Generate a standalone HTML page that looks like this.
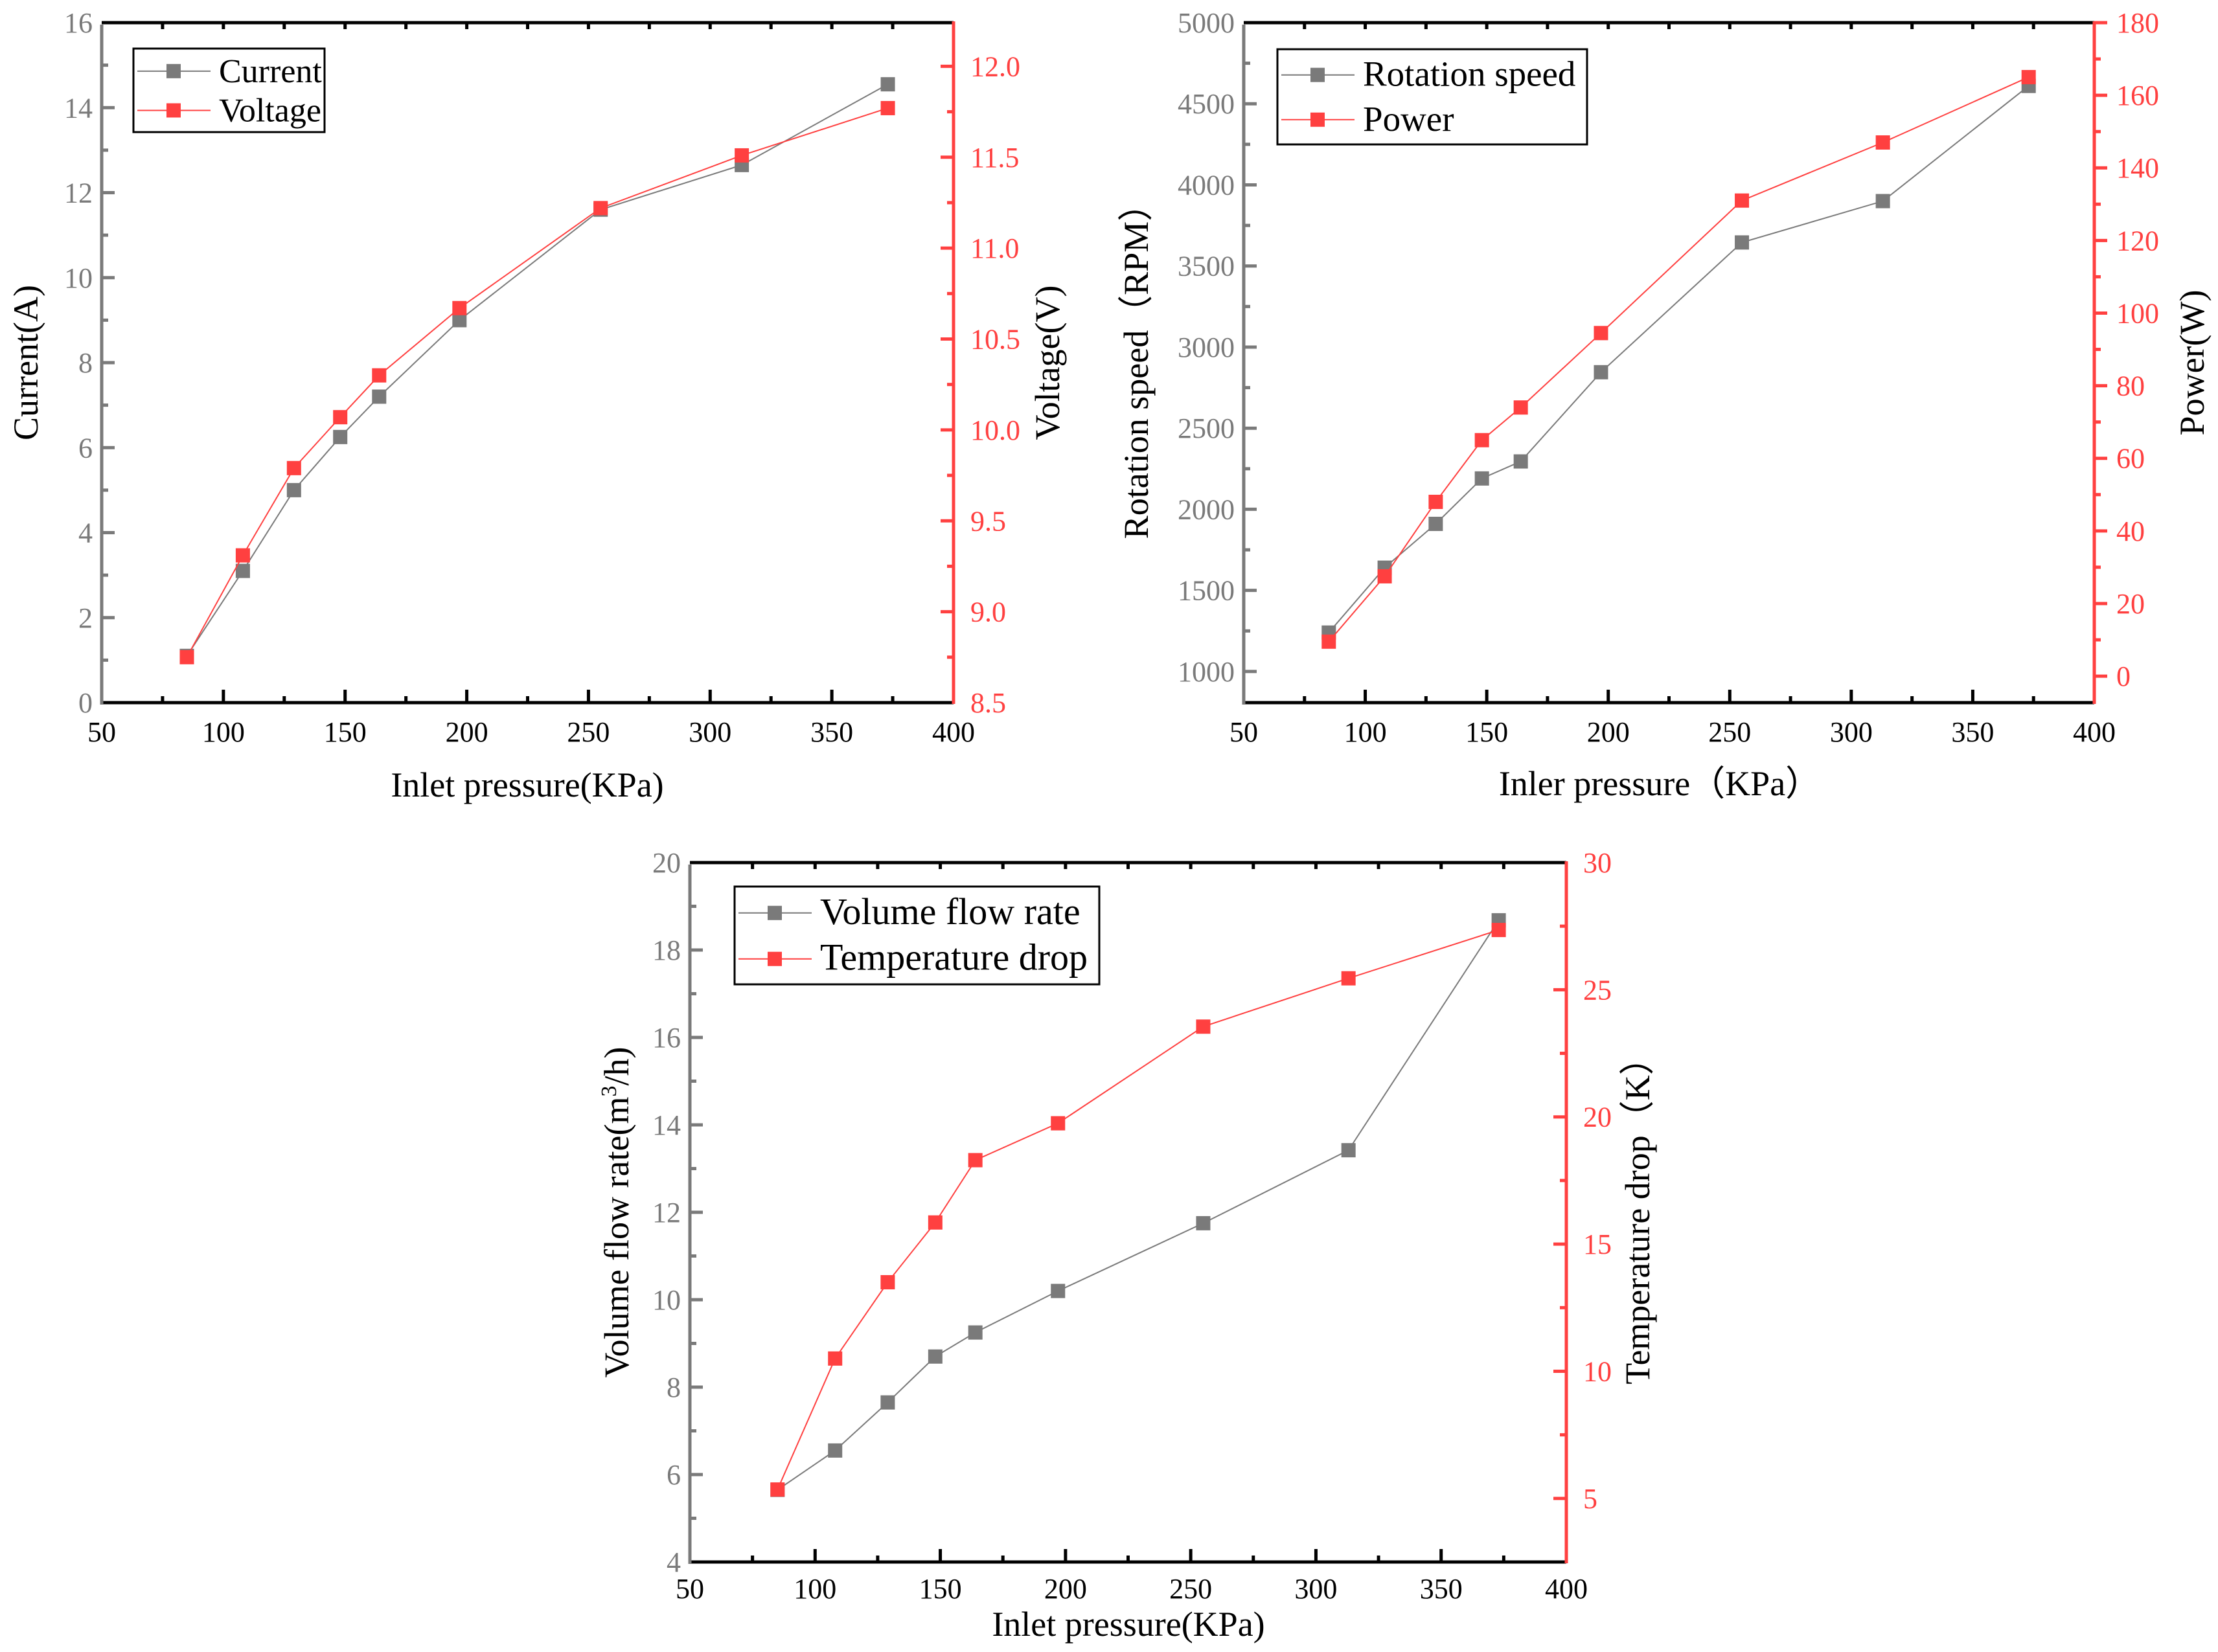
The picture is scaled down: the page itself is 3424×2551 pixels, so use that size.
<!DOCTYPE html>
<html><head><meta charset="utf-8">
<style>
html,body{margin:0;padding:0;background:#fff;}
svg{display:block;font-family:"Liberation Serif",serif;}
</style></head>
<body>
<svg id="fig" width="3424" height="2551" viewBox="0 0 3424 2551" xmlns="http://www.w3.org/2000/svg"></svg>
<script>
const pressure = [85,108,129,148,164,197,255,313,373];
const currentA = [1.1,3.1,5.0,6.25,7.2,9.0,11.6,12.65,14.55];
const voltageV = [8.75,9.31,9.79,10.07,10.3,10.67,11.22,11.51,11.77];
const speedRPM = [1240,1640,1910,2190,2295,2845,3645,3900,4610];
const powerW = [9.5,27.5,48,65,74,94.5,131,147,165];
const flowRate = [5.65,6.55,7.65,8.7,9.25,10.2,11.75,13.42,18.68];
const tempDrop = [5.35,10.5,13.5,15.85,18.3,19.75,23.55,25.45,27.35];
const xTicks = [50,100,150,200,250,300,350,400];
const currentTicks = [0,2,4,6,8,10,12,14,16];
const voltageTicks = ["8.5","9.0","9.5","10.0","10.5","11.0","11.5","12.0"];
const speedTicks = [1000,1500,2000,2500,3000,3500,4000,4500,5000];
const powerTicks = [0,20,40,60,80,100,120,140,160,180];
const flowTicks = [4,6,8,10,12,14,16,18,20];
const tempTicks = [5,10,15,20,25,30];

const NS="http://www.w3.org/2000/svg";
const svg=document.getElementById('fig');
const GREY="#7a7a7a", RED="#ff4040";
function el(tag,attrs,parent){const e=document.createElementNS(NS,tag);for(const k in attrs)e.setAttribute(k,attrs[k]);(parent||svg).appendChild(e);return e;}

function chart(cfg){
  const g=el('g',{});
  
  
  const {L,R,T,B}=cfg;
  const sx=v=>L+(v-50)/350*(R-L);
  const sy1=v=>B-(v-cfg.y1min)/(cfg.y1max-cfg.y1min)*(B-T);
  const sy2=v=>B-(v-cfg.y2min)/(cfg.y2max-cfg.y2min)*(B-T);
  xTicks.forEach((t,i)=>{
    const x=sx(t);
    if(i>0&&i<xTicks.length-1) el('line',{x1:x,y1:B,x2:x,y2:B-20,stroke:'#000','stroke-width':5},g);
    if(i<xTicks.length-1){const xm=sx(t+25);el('line',{x1:xm,y1:B,x2:xm,y2:B-10,stroke:'#000','stroke-width':5},g);}
    const tx=el('text',{x:x,y:B+cfg.xlabOff,'font-size':44,'text-anchor':'middle',fill:'#000'},g);
    tx.textContent=t;
    
    
  });
  xTicks.forEach((t,i)=>{ if(i<xTicks.length-1){const xm=sx(t+25);el('line',{x1:xm,y1:T,x2:xm,y2:T+10,stroke:'#000','stroke-width':5},g);} if(i>0&&i<xTicks.length-1){el('line',{x1:sx(t),y1:T,x2:sx(t),y2:T+10,stroke:'#000','stroke-width':5},g);} });
  const lt=cfg.y1ticks;
  lt.forEach((t,i)=>{
    const y=sy1(t);
    el('line',{x1:L,y1:y,x2:L+20,y2:y,stroke:GREY,'stroke-width':5},g);
    if(i<lt.length-1){const ym=sy1((t+lt[i+1])/2);el('line',{x1:L,y1:ym,x2:L+10,y2:ym,stroke:GREY,'stroke-width':5},g);}
    const tx=el('text',{x:L-14,y:y+15,'font-size':44,'text-anchor':'end',fill:GREY},g);
    tx.textContent=t;
    
    
  });
  const rt=cfg.y2ticks, dir=cfg.rightOut?1:-1;
  rt.forEach((t,i)=>{
    const v=parseFloat(t), y=sy2(v);
    el('line',{x1:R,y1:y,x2:R+dir*20,y2:y,stroke:RED,'stroke-width':5},g);
    const step=(i<rt.length-1)?parseFloat(rt[i+1])-v:parseFloat(rt[1])-parseFloat(rt[0]);
    const ym=sy2(v+step/2); if(ym>=T) el('line',{x1:R,y1:ym,x2:R+dir*10,y2:ym,stroke:RED,'stroke-width':5},g);
    const ymb=sy2(v-step/2); if(i===0&&ymb<=B) el('line',{x1:R,y1:ymb,x2:R+dir*10,y2:ymb,stroke:RED,'stroke-width':5},g);
    const tx=el('text',{x:R+(cfg.rightOut?34:26),y:y+15,'font-size':44,'text-anchor':'start',fill:RED},g);
    tx.textContent=t;
    
    
  });
  el('line',{x1:L,y1:T,x2:R,y2:T,stroke:'#000','stroke-width':5},g);
  el('line',{x1:L,y1:B,x2:R,y2:B,stroke:'#000','stroke-width':5},g);
  el('line',{x1:L,y1:T+3,x2:L,y2:B+3,stroke:GREY,'stroke-width':5},g);
  el('line',{x1:R,y1:T-2,x2:R,y2:B+2,stroke:RED,'stroke-width':5},g);
  function series(vals,sy,color,nm){
    const pts=pressure.map((p,i)=>sx(p)+','+sy(vals[i])).join(' ');
    const pl=el('polyline',{points:pts,fill:'none',stroke:color,'stroke-width':2},g);
    
    
    pressure.forEach((p,i)=>{
      const r=el('rect',{x:sx(p)-11,y:sy(vals[i])-11,width:22,height:22,fill:color},g);
      
      
    });
  }
  series(cfg.s1,sy1,GREY,cfg.s1name);
  series(cfg.s2,sy2,RED,cfg.s2name);
  const lg=el('g',{},g);
  
  
  const [lx,ly,lw,lh]=cfg.leg;
  el('rect',{x:lx,y:ly,width:lw,height:lh,fill:'#fff',stroke:'#000','stroke-width':3},lg);
  [[cfg.l1,GREY],[cfg.l2,RED]].forEach((e,i)=>{
    const y=ly+lh*(i===0?0.27:0.74);
    el('line',{x1:lx+6,y1:y,x2:lx+119,y2:y,stroke:e[1],'stroke-width':2},lg);
    el('rect',{x:lx+51,y:y-11,width:22,height:22,fill:e[1]},lg);
    const tx=el('text',{x:lx+132,y:y+17,'font-size':cfg.legFs,fill:'#000'},lg);
    tx.textContent=e[0];
    
    
  });
  const xt=el('text',{x:cfg.xtX,y:cfg.xtY,'font-size':54,'text-anchor':'middle',fill:'#000'},g);
  xt.textContent=cfg.xt;
  
  
  const yc=(T+B)/2;
  const y1=el('text',{x:0,y:0,'font-size':54,'text-anchor':'middle',fill:'#000',transform:`translate(${cfg.y1tX},${yc}) rotate(-90)`},g);
  y1.innerHTML=cfg.y1t;
  
  
  const y2=el('text',{x:0,y:0,'font-size':54,'text-anchor':'middle',fill:'#000',transform:`translate(${cfg.y2tX},${yc}) rotate(-90)`},g);
  y2.textContent=cfg.y2t;
  
  
}

chart({name:'current-voltage-chart',L:157,R:1472,T:35,B:1085,y1min:0,y1max:16,y2min:8.5,y2max:12.24,
  y1ticks:currentTicks,y2ticks:voltageTicks,rightOut:false,s1:currentA,s2:voltageV,s1name:'current',s2name:'voltage',
  leg:[206,75,295,129],legFs:52,l1:'Current',l2:'Voltage',xlabOff:60,
  xt:'Inlet pressure(KPa)',xtX:814,xtY:1230,y1t:'Current(A)',y1tX:58,y2t:'Voltage(V)',y2tX:1635});
chart({name:'speed-power-chart',L:1920,R:3233,T:35,B:1085,y1min:808,y1max:5000,y2min:-7.3,y2max:180,
  y1ticks:speedTicks,y2ticks:powerTicks.map(String),rightOut:true,s1:speedRPM,s2:powerW,s1name:'rotation-speed',s2name:'power',
  leg:[1972,76,478,147],legFs:55,l1:'Rotation speed',l2:'Power',xlabOff:60,
  xt:'Inler pressure（KPa）',xtX:2562,xtY:1228,y1t:'Rotation speed（RPM）',y1tX:1772,y2t:'Power(W)',y2tX:3402});
chart({name:'flow-temperature-chart',L:1065,R:2418,T:1332,B:2412,y1min:4,y1max:20,y2min:2.5,y2max:30,
  y1ticks:flowTicks,y2ticks:tempTicks.map(String),rightOut:false,s1:flowRate,s2:tempDrop,s1name:'volume-flow-rate',s2name:'temperature-drop',
  leg:[1134,1369,563,151],legFs:58,l1:'Volume flow rate',l2:'Temperature drop',xlabOff:56,
  xt:'Inlet pressure(KPa)',xtX:1742,xtY:2526,y1t:'Volume flow rate(m<tspan font-size="34" dy="-19">3</tspan><tspan dy="19">/h)</tspan>',y1tX:970,y2t:'Temperature drop（K）',y2tX:2546});
</script>
</body></html>
